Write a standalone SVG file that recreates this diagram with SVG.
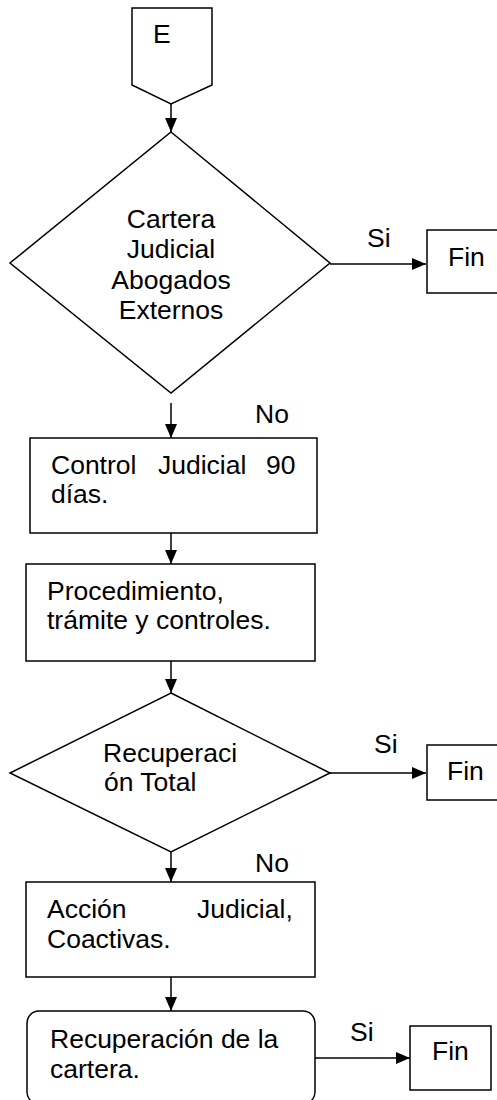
<svg xmlns="http://www.w3.org/2000/svg" width="497" height="1100" viewBox="0 0 497 1100">
  <style>
    .shape { fill: #fff; stroke: #000; stroke-width: 1.5; }
    .edge { fill: none; stroke: #000; stroke-width: 1.5; marker-end: url(#arrow); }
    text { font-family: "Liberation Sans", Arial, sans-serif; font-size: 26.5px; fill: #000; }
  </style>
  <defs>
    <marker id="arrow" viewBox="0 0 14 12" refX="14" refY="6" markerWidth="14" markerHeight="12" markerUnits="userSpaceOnUse" orient="auto">
      <path d="M0,0 L14,6 L0,12 z" fill="#000"/>
    </marker>
  </defs>
  <rect width="497" height="1100" fill="#fff"/>

  <!-- connectors -->
  <g id="connectors">
    <path class="edge" d="M171,104 V132"/>
    <path class="edge" d="M330,264 H426"/>
    <path class="edge" d="M171,403 V438"/>
    <path class="edge" d="M171,533 V564"/>
    <path class="edge" d="M171,661 V693"/>
    <path class="edge" d="M330,773 H426"/>
    <path class="edge" d="M171,852 V882"/>
    <path class="edge" d="M171,977 V1011"/>
    <path class="edge" d="M315,1058 H410"/>
    <text x="367" y="247">Si</text>
    <text x="255" y="423">No</text>
    <text x="374" y="753">Si</text>
    <text x="255" y="872">No</text>
    <text x="350" y="1041">Si</text>
  </g>

  <!-- off-page connector -->
  <g id="node-e">
    <path class="shape" d="M132,8 H212 V85 L171,104 L132,85 Z"/>
    <text x="153" y="43">E</text>
  </g>

  <!-- decision: externally handled portfolio -->
  <g id="node-cartera">
    <path class="shape" d="M171,132 L330,263 L171,393 L10,263 Z"/>
    <text x="171" y="228" text-anchor="middle">Cartera</text>
    <text x="171" y="258" text-anchor="middle">Judicial</text>
    <text x="171" y="289" text-anchor="middle">Abogados</text>
    <text x="171" y="319" text-anchor="middle">Externos</text>
  </g>

  <g id="node-fin1">
    <rect class="shape" x="427" y="230" width="80" height="63"/>
    <text x="448" y="266">Fin</text>
  </g>

  <g id="node-control">
    <rect class="shape" x="30" y="438" width="287" height="95"/>
    <text x="51" y="474">Control</text>
    <text x="158" y="474">Judicial</text>
    <text x="266" y="474">90</text>
    <text x="51" y="503">días.</text>
  </g>

  <g id="node-procedimiento">
    <rect class="shape" x="26" y="564" width="289" height="97"/>
    <text x="47" y="600">Procedimiento,</text>
    <text x="47" y="629">trámite y controles.</text>
  </g>

  <!-- decision: total recovery -->
  <g id="node-recuperacion-total">
    <path class="shape" d="M171,693 L330,773 L171,852 L10,773 Z"/>
    <text x="103" y="762">Recuperaci</text>
    <text x="104" y="791">ón Total</text>
  </g>

  <g id="node-fin2">
    <rect class="shape" x="427" y="745" width="80" height="55"/>
    <text x="447" y="780">Fin</text>
  </g>

  <g id="node-accion">
    <rect class="shape" x="26" y="882" width="289" height="95"/>
    <text x="47" y="918">Acción</text>
    <text x="197" y="918">Judicial,</text>
    <text x="47" y="948">Coactivas.</text>
  </g>

  <g id="node-recuperacion-cartera">
    <rect class="shape" x="27" y="1011" width="288" height="93" rx="12" ry="12"/>
    <text x="50" y="1048">Recuperación de la</text>
    <text x="50" y="1078">cartera.</text>
  </g>

  <g id="node-fin3">
    <rect class="shape" x="410" y="1026" width="81" height="64"/>
    <text x="432" y="1060">Fin</text>
  </g>
</svg>
